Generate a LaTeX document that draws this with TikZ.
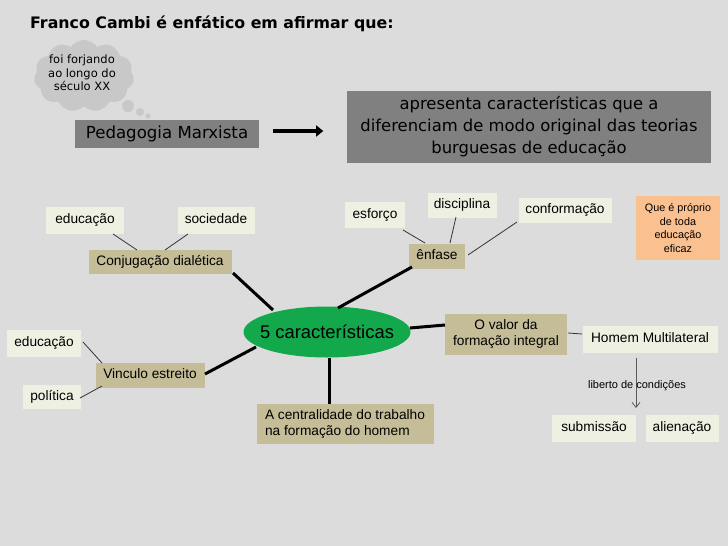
\documentclass[tikz,border=0pt]{standalone}
\usepackage{fontspec}
\setmainfont{Liberation Sans}
\newfontfamily\comicf{DejaVu Sans}
\usetikzlibrary{shapes.symbols,shapes.geometric,arrows.meta}
\definecolor{bgc}{HTML}{DCDCDC}
\definecolor{grayb}{HTML}{808080}
\definecolor{tanb}{HTML}{C4BD97}
\definecolor{lightb}{HTML}{EEF0E2}
\definecolor{orangeb}{HTML}{FAC090}
\definecolor{greenb}{HTML}{12A84B}
\definecolor{cloudc}{HTML}{C8C8C8}
\begin{document}
\begin{tikzpicture}[x=1pt,y=-1pt,
  box/.style={anchor=center,inner sep=0pt,align=center,text=black},
  gbox/.style={box,fill=grayb},
  one/.style={text height=10pt,text depth=3pt},
  tbox/.style={box,fill=tanb,font=\fontsize{13.7}{16}\selectfont},
  lbox/.style={box,one,fill=lightb,font=\fontsize{13.7}{16}\selectfont},
  thick line/.style={line width=3pt,black},
  thin line/.style={line width=0.8pt,black!80}]
\fill[bgc] (0,0) rectangle (728,546);
\useasboundingbox (0,0) rectangle (728,546);
% title
\node[box,anchor=west,font=\comicf\bfseries\fontsize{15.8}{18}\selectfont] (title) at (30,24) {Franco Cambi é enfático em afirmar que:};
% cloud
\node[cloud,cloud puffs=11,cloud puff arc=110,aspect=1.3,fill=cloudc,minimum width=100pt,minimum height=72pt,inner sep=0pt] (cloud) at (84,76) {};
\node[box,font=\comicf\fontsize{11.5}{13.5}\selectfont] (cloudtxt) at (82,73) {foi forjando\\ao longo do\\século XX};
\fill[cloudc] (128,106) circle (6);
\fill[cloudc] (140,112) circle (4);
\fill[cloudc] (148,116) circle (2.5);
% top boxes
\node[gbox,minimum width=184pt,minimum height=28pt,font=\comicf\fontsize{16.6}{19}\selectfont] (ped) at (167,134) {Pedagogia Marxista};
\node[gbox,minimum width=364pt,minimum height=72pt,font=\comicf\fontsize{16.4}{22}\selectfont] (apres) at (529,127) {apresenta características que a\\diferenciam de modo original das teorias\\burguesas de educação};
\draw[line width=4pt,-{Triangle[length=7pt,width=11pt]}] (ped.east)+(14,-3) coordinate (a1) -- ++(64,-3) coordinate (a2);
% center
\node[ellipse,fill=greenb,minimum width=167pt,minimum height=51pt,inner sep=0pt] (c) at (327,332) {};
\node[box,font=\fontsize{18.4}{20}\selectfont] (ctxt) at (c.center) {5 características};
% conjugação
\node[tbox,one,minimum width=143pt,minimum height=24pt] (conj) at (160,262) {Conjugação dialética};
\node[lbox,minimum width=78pt,minimum height=27pt] (edu1) at (85,220) {educação};
\node[lbox,minimum width=77pt,minimum height=27pt] (soc) at (216,220) {sociedade};
\draw[thin line] (113,234) -- (137,250);
\draw[thin line] (188,234) -- (165,250);
\draw[thick line] (233,273) -- (273,310);
% ênfase
\node[tbox,one,minimum width=56pt,minimum height=25pt] (enf) at (437,256) {ênfase};
\node[lbox,minimum width=60pt,minimum height=26pt] (esf) at (375,215) {esforço};
\node[lbox,minimum width=69pt,minimum height=25pt] (dis) at (462,205) {disciplina};
\node[lbox,minimum width=93pt,minimum height=25pt] (conf) at (565,210) {conformação};
\node[box,fill=orangeb,minimum width=84pt,minimum height=64pt,font=\fontsize{10.8}{13.5}\selectfont] (que) at (678,228) {Que é próprio\\de toda\\educação\\eficaz};
\draw[thin line] (403,230) -- (425,243);
\draw[thin line] (456,217) -- (450,243);
\draw[thin line] (517,222) -- (468,255);
\draw[thick line] (412,267) -- (338,308);
% valor
\node[tbox,minimum width=122pt,minimum height=41pt] (val) at (506,334) {O valor da\\formação integral};
\draw[thick line] (410,328) -- (445,325);
\node[lbox,minimum width=135pt,minimum height=27pt] (hom) at (650,339) {Homem Multilateral};
\draw[thin line] (568,333) -- (582,334);
\draw[line width=0.8pt,gray!70!black,-{Straight Barb[length=5pt,width=8pt]}] (636,358) -- (636,408);
\node[box,font=\fontsize{11}{13}\selectfont] (lib) at (637,386) {liberto de condições};
\node[lbox,minimum width=84pt,minimum height=27pt] (sub) at (594,428) {submissão};
\node[lbox,minimum width=73pt,minimum height=27pt] (ali) at (682,428) {alienação};
% vinculo
\node[tbox,one,minimum width=109pt,minimum height=25pt] (vin) at (150,375) {Vinculo estreito};
\node[lbox,minimum width=74pt,minimum height=27pt] (edu2) at (44,343) {educação};
\node[lbox,minimum width=58pt,minimum height=24pt] (pol) at (52,397) {política};
\draw[thin line] (83,342) -- (102,363);
\draw[thin line] (80,398) -- (102,386);
\draw[thick line] (205,374) -- (256,347);
% centralidade
\node[tbox,minimum width=177pt,minimum height=40pt,align=left] (cen) at (345,424) {A centralidade do trabalho\\na formação do homem};
\draw[thick line] (329,358) -- (329,404);
\end{tikzpicture}
\end{document}
